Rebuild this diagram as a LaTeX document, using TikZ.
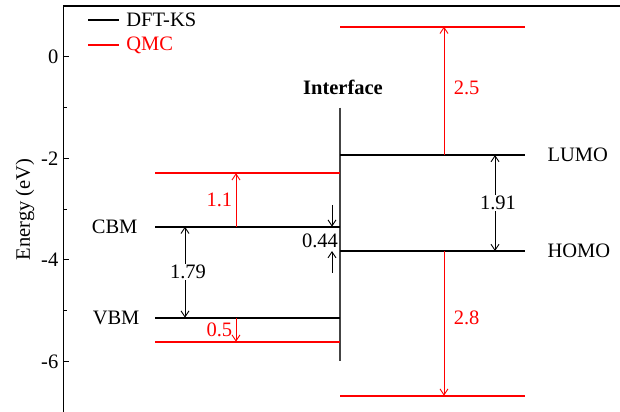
\documentclass[tikz,border=0pt]{standalone}
\usepackage{fontspec}
\setmainfont{Liberation Serif}
\usetikzlibrary{arrows.meta}
\definecolor{ks}{HTML}{000000}
\definecolor{qmc}{HTML}{FF0000}
\definecolor{wall}{HTML}{444444}

\begin{document}
\begin{tikzpicture}[x=1pt,y=50.75pt,font=\fontsize{20.5}{24}\selectfont,
    >={Straight Barb[length=6pt,width=8pt]},line cap=butt,
    lvl/.style={line width=2pt},
    gap/.style={<->,line width=0.9pt,ks},
    corr/.style={->,line width=0.9pt,qmc}]
  \useasboundingbox (0,-6.995) rectangle (620,1.123);

  % axis frame and ticks
  \draw[line width=1.8pt] (63.5,-7.2) coordinate (ybot) -- (63.5,1.005) coordinate (ytop) -- (620,1.005);
  \foreach \e in {0,-2,-4,-6}{
    \draw[line width=1pt] (63.5,\e) -- ++(5,0);
    \node[anchor=east,inner sep=0pt] (tick\e) at (58.5,\e) {\e};
  }
  \foreach \e in {-1,-3,-5}
    \draw[line width=1pt] (63.5,\e) -- ++(3,0);
  \node[rotate=90] (ylabel) at (25,-3.0) {Energy (eV)};

  % legend
  \draw[lvl,ks] (88,0.729) coordinate (legA) -- (119,0.729) node[right=3pt,ks] (legks) {DFT-KS};
  \draw[lvl,qmc] (88,0.236) coordinate (legB) -- (119,0.236) node[right=3pt,qmc] (legqmc) {QMC};

  % interface
  \draw[wall,line width=1.2pt] (340,-1.0) coordinate (ifT) -- (340,-6.0) coordinate (ifB);
  \node[font=\fontsize{20.5}{24}\selectfont\bfseries] (iface) at (343,-0.59) {Interface};

  % left side levels
  \draw[lvl,qmc] (155,-2.29) coordinate (qcbL) -- (340,-2.29) coordinate (qcbR);
  \draw[lvl,ks] (155,-3.344) coordinate (cbmL) -- (340,-3.344) coordinate (cbmR);
  \draw[lvl,ks] (155,-5.137) coordinate (vbmL) -- (340,-5.137) coordinate (vbmR);
  \draw[lvl,qmc] (155,-5.61) coordinate (qvbL) -- (340,-5.61) coordinate (qvbR);
  \node[anchor=east] (cbm) at (141,-3.344) {CBM};
  \node[anchor=east] (vbm) at (143,-5.137) {VBM};

  % right side levels
  \draw[lvl,qmc] (340,0.597) coordinate (qluL) -- (525,0.597) coordinate (qluR);
  \draw[lvl,ks] (340,-1.931) coordinate (lumoL) -- (525,-1.931) coordinate (lumoR);
  \draw[lvl,ks] (340,-3.823) coordinate (homoL) -- (525,-3.823) coordinate (homoR);
  \draw[lvl,qmc] (340,-6.674) coordinate (qhoL) -- (525,-6.674) coordinate (qhoR);
  \node[anchor=west] (lumo) at (544,-1.931) {LUMO};
  \node[anchor=west] (homo) at (544,-3.823) {HOMO};

  % gaps
  \coordinate (a179) at (185,0);
  \coordinate (a191) at (495,0);
  \coordinate (aL) at (236,0);
  \coordinate (aR) at (444,0);
  \draw[gap] (cbmL -| a179) -- node[fill=white,inner sep=1pt,xshift=3pt] (t179) {1.79} (vbmL -| a179);
  \draw[gap] (lumoR -| a191) -- node[fill=white,inner sep=1pt,xshift=3pt] (t191) {1.91} (homoR -| a191);

  % QMC corrections
  \draw[corr] (cbmL -| aL) -- node[left,qmc] (t11) {1.1} (qcbL -| aL);
  \draw[corr] (vbmL -| aL) -- node[left,qmc] (t05) {0.5} (qvbL -| aL);
  \draw[corr] (lumoL -| aR) -- node[right=6pt,qmc,pos=0.52] (t25) {2.5} (qluL -| aR);
  \draw[corr] (homoL -| aR) -- node[right=6pt,qmc,pos=0.46] (t28) {2.8} (qhoL -| aR);

  % band offset
  \coordinate (off1) at (332,-2.916);
  \coordinate (off2) at (332,-4.256);
  \draw[->,line width=0.9pt] (off1) -- (cbmR -| off1);
  \draw[->,line width=0.9pt] (off2) -- (homoL -| off2);
  \node (t044) at (320,-3.62) {0.44};
\end{tikzpicture}
\end{document}
